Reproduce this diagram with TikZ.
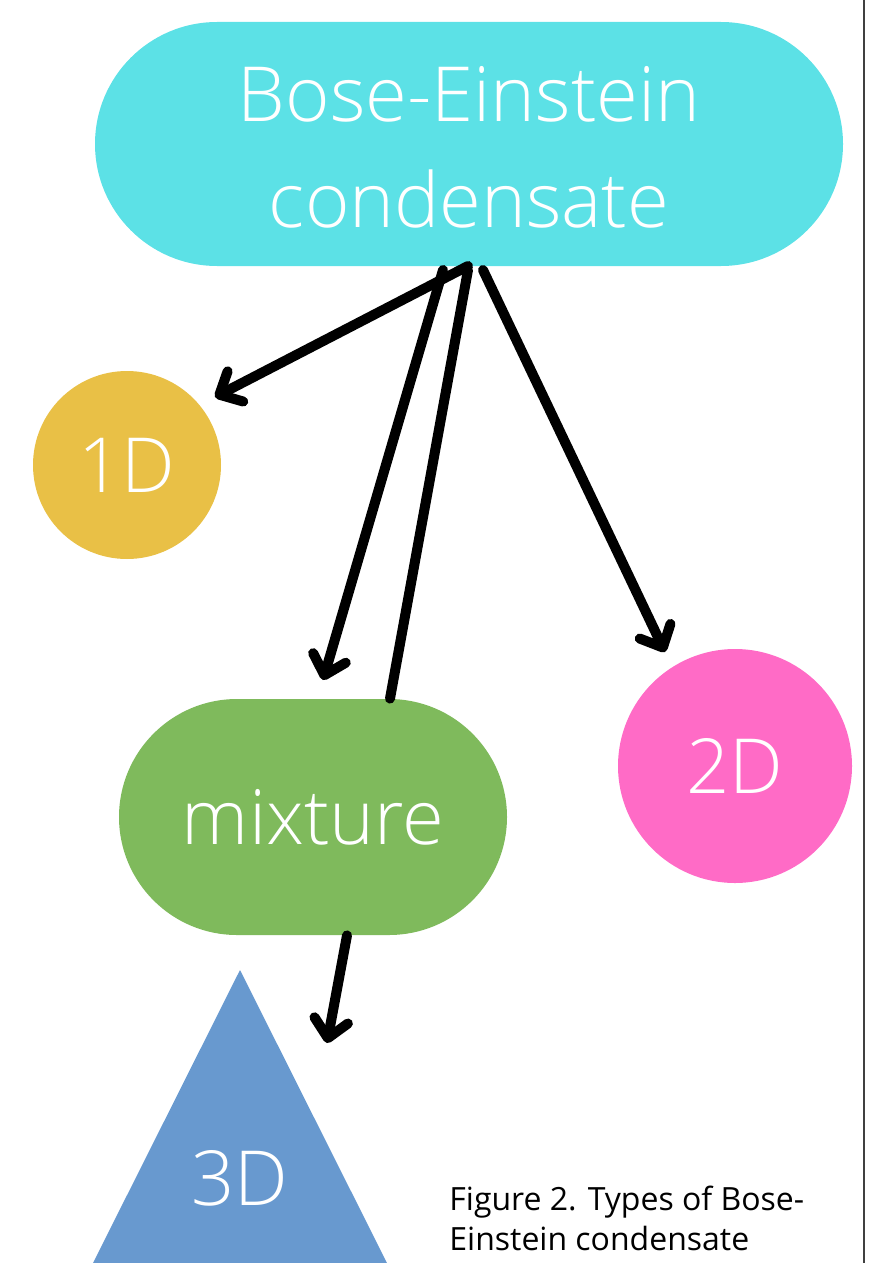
\documentclass[tikz,border=0pt]{standalone}
\usepackage{fontspec}
\setmainfont{Open Sans Light}
\newfontfamily\capfont{Open Sans}
\usetikzlibrary{arrows.meta}

\definecolor{becblue}{HTML}{5CE1E6}
\definecolor{oneyellow}{HTML}{E9C046}
\definecolor{mixgreen}{HTML}{7FBA5C}
\definecolor{twopink}{HTML}{FF6BC6}
\definecolor{threeblue}{HTML}{6899CF}

\tikzset{
  bigtext/.style={text=white,font=\fontsize{38}{53}\selectfont,align=center},
  blob/.style={inner sep=0pt,bigtext},
  arr/.style={line width=5pt,line cap=round,-{Straight Barb[round,length=9pt,width=17pt]}},
  stick/.style={line width=5pt,line cap=round}
}

\begin{document}
\begin{tikzpicture}[x=0.5pt,y=-0.5pt]
\useasboundingbox (0,0) rectangle (868,1263);
\draw[line width=1pt,black!75] (864,0)--(864,1263);

\node[blob,fill=becblue,minimum width=374pt,minimum height=122pt,rounded corners=61pt] (bec) at (469,144) {};
\node[bigtext] (bectext) at (469,147) {Bose-Einstein\\condensate};
\node[blob,fill=oneyellow,circle,minimum size=94pt] (oned) at (127,465) {1D};
\node[blob,fill=mixgreen,minimum width=194pt,minimum height=118pt,rounded corners=59pt] (mix) at (313,817) {mixture};
\node[blob,fill=twopink,circle,minimum size=117pt] (twod) at (735,766) {2D};
\fill[threeblue] (240,970)--(387,1263)--(93,1263)--cycle;
\node[bigtext] (threed) at (240,1178) {3D};

\node[anchor=north west,align=left,inner sep=0pt,font=\capfont\fontsize{16}{20}\selectfont] (cap) at (449,1186) {Figure 2. Types of Bose-\\Einstein condensate};

% start and end points of the arrows
\coordinate (s1) at (468,266);
\coordinate (s2) at (443,270);
\coordinate (s3) at (468,270);
\coordinate (s4) at (483,270);
\coordinate (e1) at (215,397);
\coordinate (e2) at (323,680);
\coordinate (e4) at (665,652);
\coordinate (e5) at (327,1043);

\draw[arr] (s1)--(e1);
\draw[arr] (s2)--(e2);
\draw[stick] (s3)--(mix.north -| 390,0);
\draw[arr] (s4)--(e4);
\draw[arr] (mix.south -| 347,0)--(e5);
\end{tikzpicture}
\end{document}
